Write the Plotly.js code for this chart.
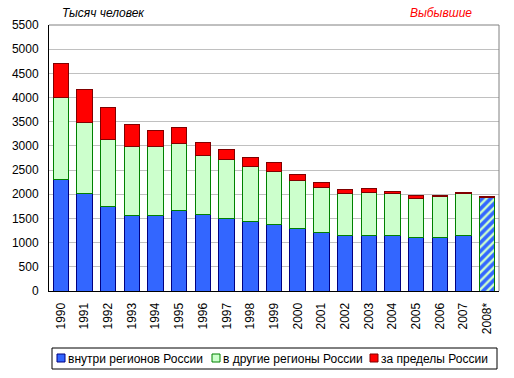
<!DOCTYPE html>
<html><head><meta charset="utf-8">
<script src="https://cdn.plot.ly/plotly-3.0.1.min.js"></script>
<style>html,body{margin:0;padding:0;background:#fff}#chart{width:514px;height:378px}</style>
</head><body><div id="chart"></div>
<script>
var years = ['1990','1991','1992','1993','1994','1995','1996','1997','1998','1999','2000','2001','2002','2003','2004','2005','2006','2007','2008*'];
var within = [2300,2020,1740,1560,1556,1659,1576,1494,1438,1370,1287,1204,1142,1149,1142,1101,1101,1142,null];
var otherRegions = [1700,1460,1400,1420,1425,1384,1219,1219,1130,1095,992,930,868,882,868,806,847,868,null];
var abroad = [710,680,660,470,345,345,283,221,200,200,138,118,97,97,56,76,35,35,15];
var total2008 = [null,null,null,null,null,null,null,null,null,null,null,null,null,null,null,null,null,null,1940];
var yTicks = [0,500,1000,1500,2000,2500,3000,3500,4000,4500,5000,5500];
var seriesNames = ['внутри регионов России','в другие регионы России','за пределы России'];

var W = 514, H = 378, M = {l:49, r:15, t:25, b:87};
var pw = W - M.l - M.r, ph = H - M.t - M.b;
function px(X){ return (X - M.l) / pw; }
function py(Y){ return (H - M.b - Y) / ph; }

var fills = ['#3366ff','#ccffcc','#ff0000'];
var edges = ['#000080','#008000','#800000'];

var traces = [
  {type:'bar', name:seriesNames[0], x:years, y:within,
   marker:{color:fills[0], line:{color:edges[0], width:1}}},
  {type:'bar', name:seriesNames[1], x:years, y:otherRegions,
   marker:{color:fills[1], line:{color:edges[1], width:1}}},
  {type:'bar', name:'2008', x:years, y:total2008,
   marker:{color:fills[0], line:{color:edges[1], width:1},
     pattern:{shape:'/', bgcolor:fills[0], fgcolor:fills[1], size:6, solidity:0.4}}},
  {type:'bar', name:seriesNames[2], x:years, y:abroad,
   marker:{color:fills[2], line:{color:edges[2], width:1}}}
];

var shapes = [
  {type:'line', xref:'paper', yref:'paper', x0:0, x1:1, y0:1, y1:1, line:{color:'#808080', width:1}},
  {type:'line', xref:'paper', yref:'paper', x0:1, x1:1, y0:0, y1:1, line:{color:'#808080', width:1}},
  {type:'rect', xref:'paper', yref:'paper', x0:px(52), x1:px(497), y0:py(348), y1:py(369), line:{color:'#000', width:1}, fillcolor:'rgba(0,0,0,0)'}
];
var annotations = [
  {text:'<i>Тысяч человек</i>', xref:'paper', yref:'paper', x:0.025, y:1, xanchor:'left', yanchor:'bottom', yshift:3, showarrow:false, font:{size:12, color:'#000'}},
  {text:'<i>Выбывшие</i>', xref:'paper', yref:'paper', x:0.944, y:1, xanchor:'right', yanchor:'bottom', yshift:3, showarrow:false, font:{size:12, color:'#ff0000'}}
];
var legSq = [57, 212, 370];
for (var i = 0; i < 3; i++) {
  shapes.push({type:'rect', xref:'paper', yref:'paper', x0:px(legSq[i]), x1:px(legSq[i]+8), y0:py(354), y1:py(362),
    line:{color:edges[i], width:1}, fillcolor:fills[i]});
  annotations.push({text:seriesNames[i], xref:'paper', yref:'paper', x:px(legSq[i]+10), y:py(358.5),
    xanchor:'left', yanchor:'middle', showarrow:false, font:{size:12, color:'#000'}, borderpad:0});
}

var layout = {
  width:W, height:H, margin:M,
  paper_bgcolor:'#fff', plot_bgcolor:'#fff',
  font:{family:'Arial, "Liberation Sans", sans-serif', size:11, color:'#000'},
  barmode:'stack', bargap:0.35, showlegend:false,
  xaxis:{type:'category', tickangle:-90, showline:true, linecolor:'#000', linewidth:1,
    ticks:'', ticklabelstandoff:6, showgrid:false, tickfont:{size:12}},
  yaxis:{range:[0,5500], tickvals:yTicks, showline:true, linecolor:'#000', linewidth:1,
    gridcolor:'#c0c0c0', gridwidth:1, ticks:'', ticklabelstandoff:7, zeroline:false, tickfont:{size:12}},
  shapes:shapes, annotations:annotations
};
Plotly.newPlot('chart', traces, layout, {staticPlot:true, displayModeBar:false});
</script></body></html>
